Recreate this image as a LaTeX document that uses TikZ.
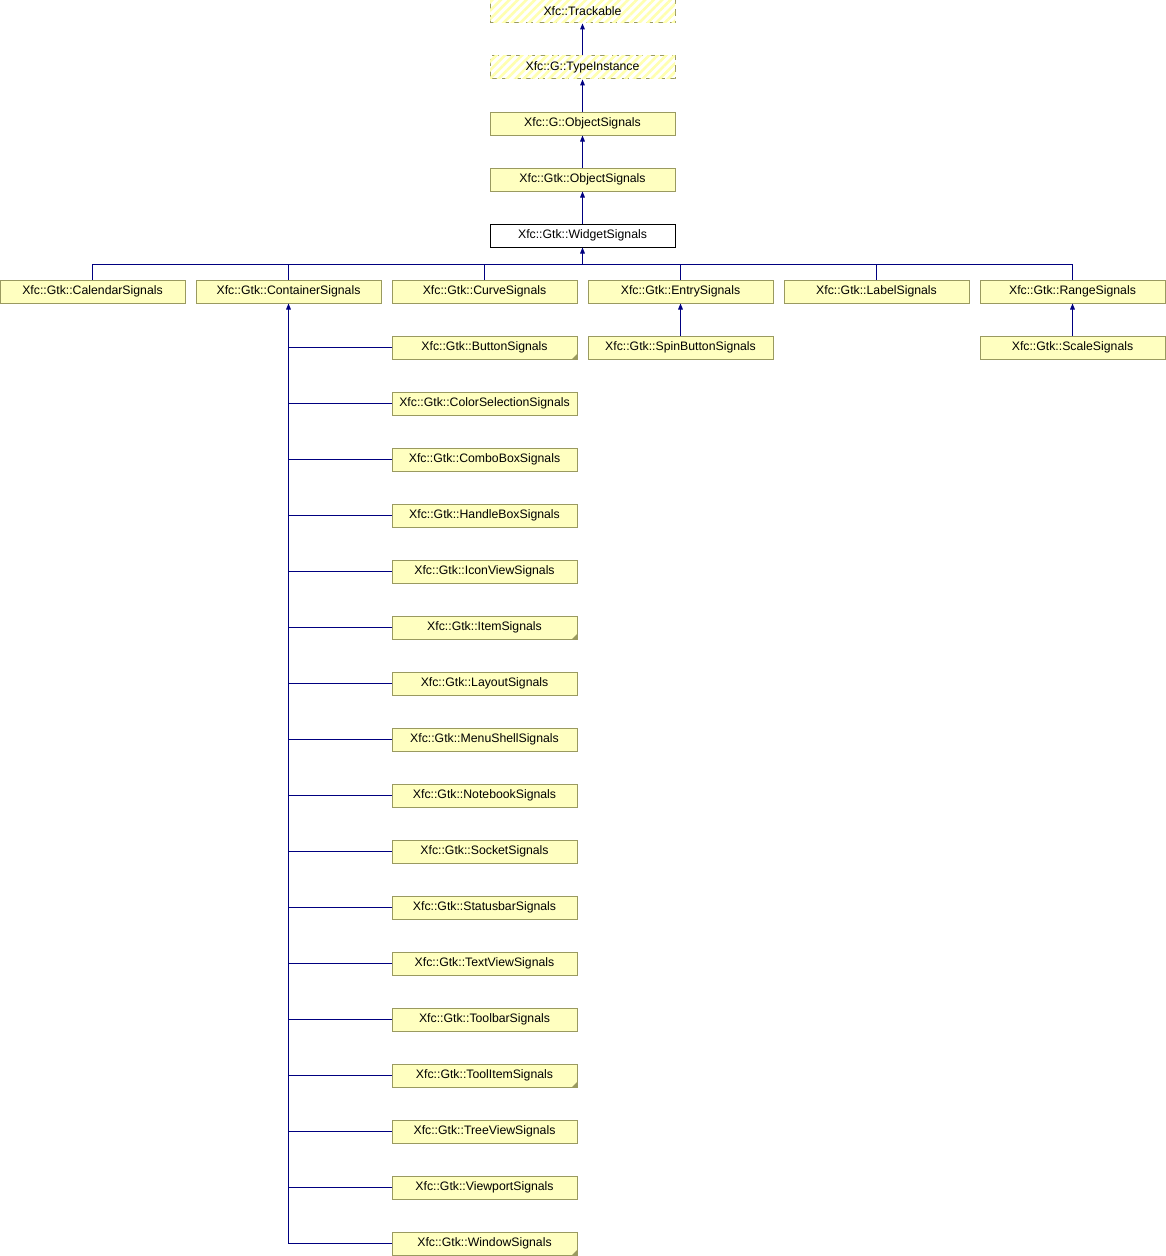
\documentclass[tikz,border=0pt]{standalone}
\usepackage{fontspec}
\setmainfont{Liberation Sans}
\usetikzlibrary{arrows.meta,patterns.meta}
\definecolor{boxfill}{HTML}{FFFFC0}
\definecolor{boxline}{HTML}{9A9A60}
\definecolor{edgeblue}{HTML}{000080}
\definecolor{hatch}{HTML}{FFFFB0}
\tikzset{cls/.style={draw=boxline, fill=boxfill, line width=0.75pt, minimum width=138.75pt, minimum height=17.25pt, inner sep=0pt, font=\fontsize{9.2}{11}\selectfont},
  plain/.style={cls, draw=black, fill=white},
  ext/.style={cls, fill=white, dash pattern=on 5pt off 4pt, postaction={pattern={Lines[angle=45,distance=4.5pt,line width=2pt]}, pattern color=hatch}},
  edge/.style={draw=edgeblue, line width=0.75pt},
  inh/.style={edge, -{Triangle[length=4.5pt,width=3.5pt]}}}

\begin{document}
\begin{tikzpicture}[x=0.75pt,y=-0.75pt]
  \useasboundingbox (0,0) rectangle (1166,1256);
  \node[ext] (trackable) at (582.5,11.5) {Xfc::Trackable};
  \node[ext] (typeinst) at (582.5,67.5) {Xfc::G::TypeInstance};
  \node[cls] (gobject) at (582.5,123.5) {Xfc::G::ObjectSignals};
  \node[cls] (gtkobject) at (582.5,179.5) {Xfc::Gtk::ObjectSignals};
  \node[plain] (widget) at (582.5,235.5) {Xfc::Gtk::WidgetSignals};
  \draw[inh] (typeinst) -- (trackable);
  \draw[inh] (gobject) -- (typeinst);
  \draw[inh] (gtkobject) -- (gobject);
  \draw[inh] (widget) -- (gtkobject);
  \coordinate (bus) at (582.5,264);
  \draw[inh] (bus) -- (widget);
  \foreach \name/\txt [count=\i from 0] in {calendar/CalendarSignals, container/ContainerSignals, curve/CurveSignals, entry/EntrySignals, label/LabelSignals, range/RangeSignals} {
    \node[cls] (\name) at (92.5+196*\i,291.5) {Xfc::Gtk::\txt};
    \draw[edge] (\name.north) |- (bus);
  }
  \node[cls] (spin) at (680.5,347.5) {Xfc::Gtk::SpinButtonSignals};
  \node[cls] (scale) at (1072.5,347.5) {Xfc::Gtk::ScaleSignals};
  \draw[inh] (spin) -- (entry);
  \draw[inh] (scale) -- (range);
  \foreach \name/\txt/\flag [count=\i from 0] in {button/ButtonSignals/1, colorsel/ColorSelectionSignals/0, combo/ComboBoxSignals/0, handlebox/HandleBoxSignals/0, iconview/IconViewSignals/0, item/ItemSignals/1, layout/LayoutSignals/0, menushell/MenuShellSignals/0, notebook/NotebookSignals/0, socket/SocketSignals/0, statusbar/StatusbarSignals/0, textview/TextViewSignals/0, toolbar/ToolbarSignals/0, toolitem/ToolItemSignals/1, treeview/TreeViewSignals/0, viewport/ViewportSignals/0, window/WindowSignals/1} {
    \node[cls] (\name) at (484.5,347.5+56*\i) {Xfc::Gtk::\txt};
    \draw[edge] (\name.west) -- (\name.west -| container.south);
    \ifnum\flag=1 \fill[boxline] (\name.south east) -- ++(-6,0) -- ++(6,-6) -- cycle; \fi
  }
  \draw[inh] (window.west -| container.south) -- (container.south);
\end{tikzpicture}
\end{document}
